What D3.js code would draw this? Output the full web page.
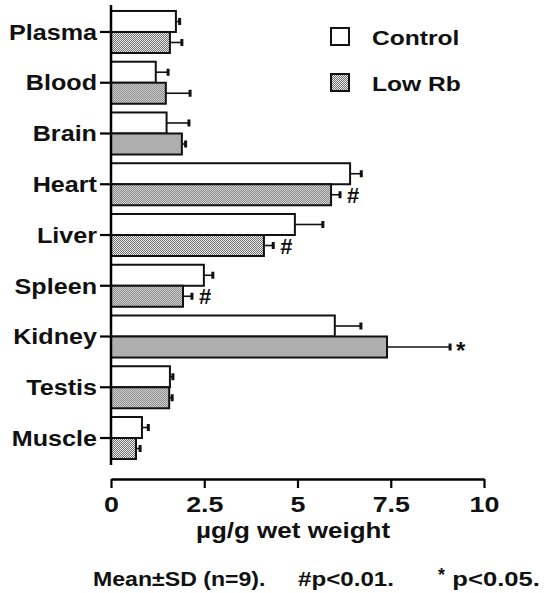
<!DOCTYPE html>
<html lang="en">
<head>
  <meta charset="UTF-8">
  <title>Rb tissue levels</title>
  <script src="https://d3js.org/d3.v7.min.js"></script>
</head>
<body style="margin: 0; padding: 0; overflow: hidden; background: #fff;">
  <svg id="chart"></svg>

  <script>
    const categories = ["Plasma", "Blood", "Brain", "Heart", "Liver", "Spleen", "Kidney", "Testis", "Muscle"];
    const controlMean = [1.74, 1.20, 1.49, 6.41, 4.93, 2.49, 6.00, 1.58, 0.83];
    const controlSD   = [0.10, 0.33, 0.60, 0.30, 0.75, 0.24, 0.70, 0.08, 0.17];
    const lowMean     = [1.58, 1.47, 1.90, 5.90, 4.10, 1.93, 7.40, 1.56, 0.67];
    const lowSD       = [0.32, 0.65, 0.10, 0.24, 0.25, 0.24, 1.69, 0.08, 0.11];
    const lowMarks    = ["", "", "", "#", "#", "#", "*", "", ""];
    const xTicks = [0, 2.5, 5, 7.5, 10];
    const seriesNames = ["Control", "Low Rb"];

    const width = 544, height = 593;
    const font = "'Liberation Sans', Arial, Helvetica, sans-serif";

    const svg = d3.select("#chart")
      .attr("width", width)
      .attr("height", height)
      .style("font-family", font);

    // the scanned lettering is wider than the font: widen it, keeping the anchor
    function stretch(sel, k = 1.19) {
      sel.each(function() {
        const w = this.getComputedTextLength();
        d3.select(this)
          .attr("textLength", w * k)
          .attr("lengthAdjust", "spacingAndGlyphs");
      });
    }

    // stippled fill for Low Rb
    const defs = svg.append("defs");
    const pat = defs.append("pattern")
      .attr("id", "dots")
      .attr("width", 2).attr("height", 2)
      .attr("patternUnits", "userSpaceOnUse");
    pat.append("rect").attr("width", 2).attr("height", 2).attr("fill", "#ececec");
    pat.append("rect").attr("x", 0).attr("y", 0).attr("width", 1).attr("height", 1).attr("fill", "#707070");
    pat.append("rect").attr("x", 1).attr("y", 1).attr("width", 1).attr("height", 1).attr("fill", "#707070");

    const x = d3.scaleLinear().domain([0, 10]).range([111, 484]);
    const y = d3.scaleBand()
      .domain(categories)
      .range([6.6, 463.4])
      .paddingInner(0.172)
      .paddingOuter(0.086);
    const ySeries = d3.scaleBand().domain(seriesNames).range([0, y.bandwidth()]);

    const rows = categories.map((c, i) => ({
      cat: c,
      vals: [
        { s: "Control", mean: controlMean[i], sd: controlSD[i], mark: "" },
        { s: "Low Rb", mean: lowMean[i], sd: lowSD[i], mark: lowMarks[i] }
      ]
    }));

    const fills = { "Control": "#fff", "Low Rb": "url(#dots)" };

    const groups = svg.selectAll(".row")
      .data(rows)
      .enter()
      .append("g")
      .attr("class", "row")
      .attr("transform", d => `translate(0,${y(d.cat)})`);

    // error bars (behind the bars)
    groups.selectAll(".err")
      .data(d => d.vals)
      .enter()
      .append("line")
      .attr("x1", d => x(d.mean))
      .attr("x2", d => x(d.mean + d.sd))
      .attr("y1", d => ySeries(d.s) + ySeries.bandwidth() / 2)
      .attr("y2", d => ySeries(d.s) + ySeries.bandwidth() / 2)
      .attr("stroke", "#111")
      .attr("stroke-width", 1.6);

    groups.selectAll(".cap")
      .data(d => d.vals)
      .enter()
      .append("rect")
      .attr("x", d => x(d.mean + d.sd) - 1.5)
      .attr("y", d => ySeries(d.s) + ySeries.bandwidth() / 2 - 3.5)
      .attr("width", 3)
      .attr("height", 7)
      .attr("fill", "#111");

    groups.selectAll(".bar")
      .data(d => d.vals)
      .enter()
      .append("rect")
      .attr("x", x(0))
      .attr("y", d => ySeries(d.s))
      .attr("width", d => x(d.mean) - x(0))
      .attr("height", ySeries.bandwidth())
      .attr("fill", d => fills[d.s])
      .attr("stroke", "#111")
      .attr("stroke-width", 2);

    // significance marks
    groups.selectAll(".mark")
      .data(d => d.vals.filter(v => v.mark))
      .enter()
      .append("text")
      .attr("x", d => x(d.mean + d.sd) + (d.mark === "*" ? 6 : 7))
      .attr("y", d => ySeries(d.s) + ySeries.bandwidth() / 2 + (d.mark === "*" ? 12 : 8))
      .attr("font-size", d => d.mark === "*" ? 24 : 22)
      .attr("font-weight", "bold")
      .attr("fill", "#111")
      .text(d => d.mark);

    // y axis
    const yAxis = svg.append("g")
      .attr("transform", `translate(${x(0)},0)`)
      .call(d3.axisLeft(y).tickSize(11).tickPadding(3).tickSizeOuter(0));
    yAxis.select(".domain").attr("stroke-width", 2.5).attr("d", "M0,5V465");
    yAxis.selectAll(".tick line").attr("stroke-width", 2.2);
    yAxis.selectAll(".tick text")
      .attr("font-size", 21.5)
      .attr("font-weight", "bold")
      .attr("font-family", font)
      .attr("fill", "#111")
      .attr("dy", "0.36em")
      .call(stretch, 1.17);

    // x axis
    const xAxis = svg.append("g")
      .attr("transform", "translate(0,479)")
      .call(d3.axisBottom(x).tickValues(xTicks).tickFormat(d => d).tickSize(9).tickPadding(8).tickSizeOuter(0));
    xAxis.select(".domain").attr("stroke-width", 2.5);
    xAxis.selectAll(".tick line").attr("stroke-width", 2.2);
    xAxis.selectAll(".tick text")
      .attr("font-size", 22.5)
      .attr("font-weight", "bold")
      .attr("font-family", font)
      .attr("fill", "#111")
      .call(stretch);

    svg.append("text")
      .attr("x", 293)
      .attr("y", 538)
      .attr("text-anchor", "middle")
      .attr("font-size", 21.5)
      .attr("font-weight", "bold")
      .attr("fill", "#111")
      .text("\u00b5g/g wet weight")
      .call(stretch, 1.21);

    // legend
    const legend = svg.selectAll(".legend")
      .data(seriesNames)
      .enter()
      .append("g")
      .attr("class", "legend")
      .attr("transform", (d, i) => `translate(331,${28 + i * 46})`);
    legend.append("rect")
      .attr("width", 18).attr("height", 17)
      .attr("fill", d => fills[d])
      .attr("stroke", "#111")
      .attr("stroke-width", 2);
    legend.append("text")
      .attr("x", 41)
      .attr("y", 17)
      .attr("font-size", 21)
      .attr("font-weight", "bold")
      .attr("fill", "#111")
      .text(d => d)
      .call(stretch, 1.17);

    // footnote
    const foot = svg.append("g")
      .attr("font-size", 21)
      .attr("font-weight", "bold")
      .attr("fill", "#111");
    foot.append("text").attr("x", 93).attr("y", 586).text("Mean\u00b1SD (n=9).").call(stretch, 1.1);
    foot.append("text").attr("x", 298).attr("y", 586).text("#p<0.01.").call(stretch, 1.15);
    foot.append("text").attr("x", 438).attr("y", 581).attr("font-size", 18).text("*");
    foot.append("text").attr("x", 540).attr("y", 586).attr("text-anchor", "end").text("p<0.05.").call(stretch, 1.22);
  </script>
</body>
</html>
